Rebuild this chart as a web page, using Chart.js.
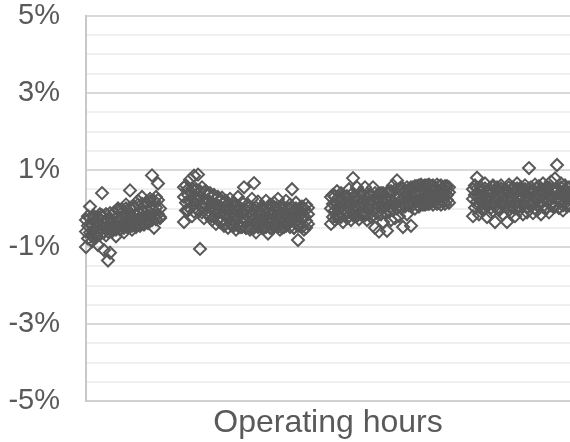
<!DOCTYPE html>
<html>
<head>
<meta charset="utf-8">
<script src="https://cdn.jsdelivr.net/npm/chart.js@4/dist/chart.umd.min.js"></script>
<style>
  html, body { margin: 0; padding: 0; background: #fff; overflow: hidden; }
  #wrap { width: 570px; height: 442px; position: relative; }
</style>
</head>
<body>
<div id="wrap"><canvas id="chart"></canvas></div>
<script>
// four running periods; every hour carries a point near the trend (core),
// one a little off it (mid) and one scattered (spread)
const c1Hours = [0, 20, 40, 60, 80, 100, 120, 140, 160, 180, 200, 220, 240, 260, 280, 300, 320, 340, 360, 380,
  400, 420, 440, 460, 480, 500, 520, 540, 560, 580, 600, 620, 640, 660, 680, 700, 720, 740];
const c1Core = [-0.60, -0.45, -0.62, -0.40, -0.55, -0.38, -0.58, -0.42, -0.52, -0.35, -0.50, -0.30, -0.48, -0.32, -0.45, -0.25, -0.40, -0.28, -0.42, -0.22,
  -0.35, -0.18, -0.32, -0.20, -0.30, -0.15, -0.28, -0.12, -0.25, -0.08, -0.22, -0.05, -0.20, -0.02, -0.18, 0.02, -0.15, 0.00];
const c1Mid = [-0.30, -0.78, -0.25, -0.72, -0.20, -0.70, -0.22, -0.68, -0.18, -0.62, -0.15, -0.60, -0.12, -0.58, -0.10, -0.55, -0.05, -0.52, -0.02, -0.50,
  0.00, -0.48, 0.02, -0.45, 0.05, -0.42, 0.10, -0.40, 0.12, -0.36, 0.15, -0.32, 0.18, -0.30, 0.20, -0.28, 0.22, -0.25];
const c1Spread = [-1.00, -0.20, 0.05, -0.85, -0.25, -0.75, -0.95, -0.15, 0.40, -1.08, -0.70, -1.35, -1.15, -0.60, -0.12, -0.72, 0.00, -0.55, -0.10, -0.62,
  0.10, -0.50, 0.47, -0.55, 0.05, -0.48, 0.20, -0.45, 0.30, -0.42, 0.15, -0.38, 0.25, 0.86, -0.50, 0.30, 0.65, -0.22];

const c2Hours = [980, 1000, 1020, 1040, 1060, 1080, 1100, 1120, 1140, 1160, 1180, 1200, 1220, 1240, 1260, 1280, 1300, 1320, 1340, 1360,
  1380, 1400, 1420, 1440, 1460, 1480, 1500, 1520, 1540, 1560, 1580, 1600, 1620, 1640, 1660, 1680, 1700, 1720, 1740, 1760,
  1780, 1800, 1820, 1840, 1860, 1880, 1900, 1920, 1940, 1960, 1980, 2000, 2020, 2040, 2060, 2080, 2100, 2120, 2140, 2160,
  2180, 2200, 2220];
const c2Core = [0.30, 0.15, 0.35, 0.20, 0.38, 0.12, 0.28, 0.18, 0.32, 0.08, 0.25, 0.10, 0.22, 0.02, 0.15, -0.05, 0.10, -0.08, 0.05, -0.12,
  0.02, -0.15, -0.02, -0.18, -0.08, -0.20, -0.05, -0.22, -0.10, -0.25, -0.12, -0.28, -0.10, -0.25, -0.15, -0.30, -0.12, -0.28, -0.15, -0.32,
  -0.18, -0.30, -0.12, -0.28, -0.15, -0.32, -0.18, -0.28, -0.12, -0.25, -0.15, -0.30, -0.18, -0.28, -0.12, -0.25, -0.18, -0.30, -0.15, -0.28,
  -0.20, -0.32, -0.15];
const c2Mid = [0.55, -0.05, 0.50, 0.00, 0.52, -0.08, 0.48, -0.05, 0.45, -0.10, 0.42, -0.12, 0.35, -0.18, 0.30, -0.22, 0.25, -0.28, 0.20, -0.32,
  0.15, -0.38, 0.10, -0.40, 0.08, -0.45, 0.05, -0.45, 0.02, -0.48, 0.00, -0.50, 0.02, -0.48, 0.00, -0.50, 0.02, -0.48, 0.00, -0.50,
  -0.02, -0.48, 0.02, -0.50, 0.00, -0.45, 0.02, -0.48, 0.00, -0.50, 0.02, -0.45, 0.00, -0.48, 0.02, -0.50, 0.00, -0.45, 0.02, -0.48,
  0.00, -0.50, 0.02];
const c2Spread = [-0.35, 0.60, -0.05, 0.75, -0.20, 0.85, 0.50, 0.88, -1.05, 0.55, -0.25, 0.45, -0.15, 0.40, -0.30, 0.35, -0.40, 0.30, -0.35, 0.28,
  -0.45, 0.20, -0.50, 0.25, -0.42, 0.15, -0.55, 0.30, -0.48, 0.15, 0.55, -0.50, 0.10, -0.55, 0.25, 0.66, -0.62, 0.18, -0.45, 0.05,
  -0.50, 0.20, -0.65, 0.10, -0.52, 0.15, -0.45, 0.25, -0.55, 0.08, -0.48, 0.20, -0.40, 0.10, 0.50, -0.50, 0.15, -0.82, -0.45, 0.05,
  -0.55, 0.10, -0.40];

const c3Hours = [2450, 2470, 2490, 2510, 2530, 2550, 2570, 2590, 2610, 2630, 2650, 2670, 2690, 2710, 2730, 2750, 2770, 2790, 2810, 2830,
  2850, 2870, 2890, 2910, 2930, 2950, 2970, 2990, 3010, 3030, 3050, 3070, 3090, 3110, 3130, 3150, 3170, 3190, 3210, 3230,
  3250, 3270, 3290, 3310, 3330, 3350, 3370, 3390, 3410, 3430, 3450, 3470, 3490, 3510, 3530, 3550, 3570, 3590, 3610, 3630];
const c3Core = [0.00, 0.12, -0.05, 0.10, 0.02, 0.15, -0.02, 0.12, 0.05, 0.18, 0.00, 0.15, 0.05, 0.20, 0.02, 0.15, 0.08, 0.20, 0.02, 0.15,
  0.05, 0.18, 0.00, 0.12, 0.05, 0.20, 0.02, 0.15, 0.08, 0.22, 0.05, 0.18, 0.10, 0.25, 0.08, 0.22, 0.12, 0.28, 0.15, 0.30,
  0.18, 0.32, 0.20, 0.35, 0.22, 0.38, 0.25, 0.40, 0.28, 0.42, 0.30, 0.42, 0.32, 0.40, 0.35, 0.42, 0.32, 0.40, 0.35, 0.42];
const c3Mid = [0.30, -0.22, 0.32, -0.20, 0.30, -0.22, 0.35, -0.18, 0.32, -0.20, 0.35, -0.18, 0.32, -0.20, 0.38, -0.15, 0.35, -0.18, 0.38, -0.15,
  0.35, -0.18, 0.40, -0.12, 0.38, -0.15, 0.40, -0.10, 0.42, -0.08, 0.45, -0.05, 0.48, 0.00, 0.50, 0.02, 0.52, 0.05, 0.55, 0.08,
  0.55, 0.10, 0.58, 0.10, 0.60, 0.12, 0.58, 0.10, 0.60, 0.12, 0.58, 0.10, 0.55, 0.12, 0.58, 0.10, 0.55, 0.12, 0.58, 0.15];
const c3Spread = [-0.40, 0.35, -0.30, 0.45, -0.20, 0.40, -0.35, 0.30, -0.25, 0.50, -0.30, 0.79, -0.20, 0.55, -0.28, 0.40, -0.15, 0.55, -0.30, 0.35,
  -0.22, 0.55, -0.50, 0.30, -0.60, 0.40, -0.35, 0.25, -0.58, 0.45, -0.30, 0.60, -0.25, 0.73, -0.20, 0.55, -0.48, 0.45, -0.15, 0.50,
  -0.45, 0.55, 0.00, 0.58, 0.05, 0.62, 0.10, 0.60, 0.12, 0.62, 0.15, 0.60, 0.18, 0.62, 0.15, 0.60, 0.20, 0.58, 0.22, 0.55];

const c4Hours = [3870, 3890, 3910, 3930, 3950, 3970, 3990, 4010, 4030, 4050, 4070, 4090, 4110, 4130, 4150, 4170, 4190, 4210, 4230, 4250,
  4270, 4290, 4310, 4330, 4350, 4370, 4390, 4410, 4430, 4450, 4470, 4490, 4510, 4530, 4550, 4570, 4590, 4610, 4630, 4650,
  4670, 4690, 4710, 4730, 4750, 4770, 4790, 4810, 4830, 4850];
const c4Core = [0.25, 0.35, 0.18, 0.32, 0.20, 0.35, 0.15, 0.30, 0.22, 0.38, 0.18, 0.30, 0.20, 0.35, 0.15, 0.32, 0.22, 0.38, 0.18, 0.30,
  0.22, 0.38, 0.15, 0.30, 0.25, 0.40, 0.20, 0.32, 0.22, 0.38, 0.18, 0.32, 0.25, 0.40, 0.20, 0.35, 0.25, 0.40, 0.22, 0.35,
  0.28, 0.42, 0.25, 0.38, 0.22, 0.35, 0.28, 0.40, 0.25, 0.38];
const c4Mid = [0.50, 0.02, 0.52, 0.05, 0.48, 0.00, 0.52, 0.05, 0.50, 0.02, 0.55, 0.05, 0.48, 0.00, 0.52, 0.08, 0.50, 0.02, 0.55, 0.05,
  0.50, 0.00, 0.52, 0.05, 0.55, 0.08, 0.50, 0.02, 0.52, 0.05, 0.48, 0.00, 0.55, 0.08, 0.50, 0.05, 0.52, 0.02, 0.55, 0.08,
  0.50, 0.05, 0.52, 0.02, 0.55, 0.08, 0.50, 0.05, 0.52, 0.08];
const c4Spread = [-0.20, 0.60, 0.80, -0.15, 0.55, -0.05, 0.65, -0.22, 0.50, -0.10, 0.60, -0.35, 0.55, -0.05, 0.60, -0.15, 0.50, -0.35, 0.62, -0.10,
  0.55, -0.20, 0.65, -0.05, 0.50, -0.15, 0.60, -0.10, 1.05, 0.55, -0.12, 0.62, -0.05, 0.58, -0.15, 0.65, 0.00, 0.55, -0.10, 0.70,
  0.05, 0.78, 1.13, 0.02, 0.65, -0.05, 0.60, 0.10, 0.55, 0.05];

const xMax = 4840;
const yMin = -5;
const yMax = 5;
const yMajor = [-5, -3, -1, 1, 3, 5];
const xTitle = 'Operating hours';

const toPoints = (xs, ys) => xs.map((x, i) => ({ x: x, y: ys[i] }));
const allPoints = [].concat(
  toPoints(c1Hours, c1Spread), toPoints(c1Hours, c1Mid), toPoints(c1Hours, c1Core),
  toPoints(c2Hours, c2Spread), toPoints(c2Hours, c2Mid), toPoints(c2Hours, c2Core),
  toPoints(c3Hours, c3Spread), toPoints(c3Hours, c3Mid), toPoints(c3Hours, c3Core),
  toPoints(c4Hours, c4Spread), toPoints(c4Hours, c4Mid), toPoints(c4Hours, c4Core)
);

const isMajor = v => yMajor.some(m => Math.abs(m - v) < 1e-6);

// no extra room for the first/last tick label, the plot box is fixed by hand
const noLabelPadding = axis => {
  axis.paddingTop = 0;
  axis.paddingBottom = 0;
  axis.paddingLeft = 0;
  axis.paddingRight = 0;
};

new Chart(document.getElementById('chart'), {
  type: 'scatter',
  data: {
    datasets: [{
      data: allPoints,
      clip: false,
      pointStyle: 'rectRot',
      pointRadius: 6,
      pointHoverRadius: 6,
      borderWidth: 2,
      borderColor: '#595959',
      backgroundColor: 'rgba(0,0,0,0)'
    }]
  },
  options: {
    responsive: true,
    maintainAspectRatio: false,
    animation: false,
    layout: { autoPadding: false, padding: { left: 4, right: 0, top: 16, bottom: 0 } },
    plugins: { legend: { display: false }, tooltip: { enabled: false } },
    scales: {
      x: {
        type: 'linear',
        min: 0,
        max: xMax,
        grid: { display: false },
        border: { color: '#d0d0d0', width: 2 },
        ticks: { display: false },
        afterFit: axis => { axis.height = 41; noLabelPadding(axis); },
        title: {
          display: true,
          text: xTitle,
          color: '#595959',
          font: { family: 'Liberation Sans, Arial', size: 32, lineHeight: 1.15 },
          padding: { top: 0, bottom: 0 }
        }
      },
      y: {
        min: yMin,
        max: yMax,
        afterFit: axis => { axis.width = 82; noLabelPadding(axis); },
        grid: {
          drawTicks: false,
          color: ctx => isMajor(ctx.tick.value) ? '#d9d9d9' : '#f0f0f0',
          lineWidth: 2
        },
        border: { color: '#c8c8c8', width: 2 },
        ticks: {
          stepSize: 0.5,
          autoSkip: false,
          padding: 26,
          color: '#595959',
          font: { family: 'Liberation Sans, Arial', size: 29 },
          callback: v => isMajor(v) ? v + '%' : ''
        }
      }
    }
  }
});
</script>
</body>
</html>
